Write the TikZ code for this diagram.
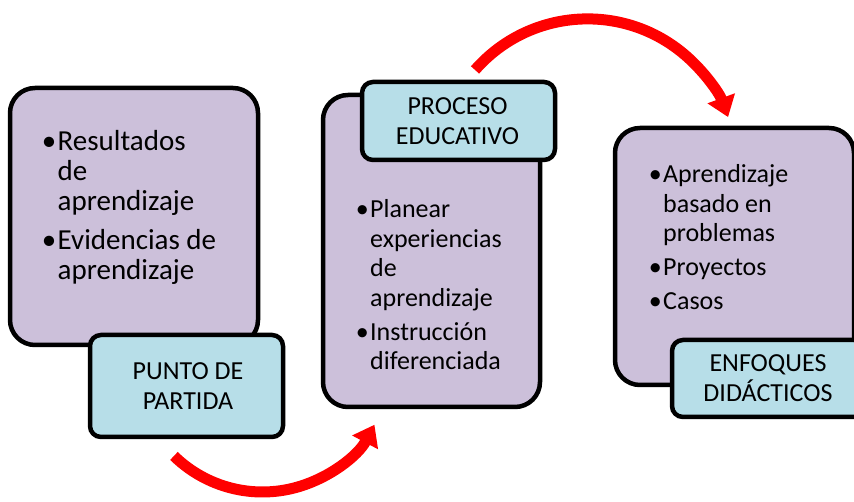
\documentclass[tikz,border=0pt]{standalone}
\usepackage{fontspec}
\setmainfont{Carlito}
\usetikzlibrary{arrows.meta,calc}
\definecolor{boxpurple}{RGB}{204,192,218}
\definecolor{labelblue}{RGB}{183,222,232}
\definecolor{arrowred}{RGB}{255,0,0}
\newcommand{\itemline}[1]{\hbox{\llap{\textbullet\hspace{1.5pt}}#1}}
\newcommand{\plainline}[1]{\hbox{#1}}
\newcommand{\ctrline}[1]{\hbox to 0pt{\hss#1\hss}}
\tikzset{
  mainbox/.style={draw=black, line width=4.5pt, fill=boxpurple, rounded corners=25pt, inner sep=0pt},
  labelbox/.style={draw=black, line width=4.5pt, fill=labelblue, rounded corners=11pt, inner sep=0pt},
  bigtext/.style={anchor=base west, inner sep=0pt, font=\fontsize{29}{30}\selectfont},
  midtext/.style={anchor=base west, inner sep=0pt, font=\fontsize{26}{29.5}\selectfont},
  labeltext/.style={anchor=base, inner sep=0pt, font=\fontsize{26}{29.5}\selectfont},
  flow/.style={draw=arrowred, line width=11pt, -{Triangle[width=28pt,length=20pt]}}
}
\begin{document}
\begin{tikzpicture}[x=1pt,y=1pt]
\useasboundingbox (0,0) rectangle (854,502);
\clip (0,0) rectangle (854,502);
% box 1
\node[mainbox, minimum width=248pt, minimum height=257pt] (b1) at (134,285.5) {};
\node[bigtext] (t1) at (57.5,351) {\vtop{%
  \itemline{Resultados}\plainline{de}\plainline{aprendizaje}\vskip9pt
  \itemline{Evidencias de}\plainline{aprendizaje}}};
\node[labelbox, minimum width=193pt, minimum height=102pt] (l1) at (186.5,116) {};
\node[labeltext] (lt1) at (188,122) {\vtop{\ctrline{PUNTO DE}\ctrline{PARTIDA}}};
% box 2
\node[mainbox, minimum width=217pt, minimum height=312pt] (b2) at (431.5,251) {};
\node[midtext] (t2) at (370,284) {\vtop{%
  \itemline{Planear}\plainline{experiencias}\plainline{de}\plainline{aprendizaje}\vskip4.5pt
  \itemline{Instrucción}\plainline{diferenciada}}};
\node[labelbox, minimum width=193pt, minimum height=78pt] (l2) at (458.5,381) {};
\node[labeltext] (lt2) at (457.5,387) {\vtop{\ctrline{PROCESO}\ctrline{EDUCATIVO}}};
% box 3
\node[mainbox, minimum width=239pt, minimum height=257pt] (b3) at (734.5,245.5) {};
\node[midtext] (t3) at (663,319) {\vtop{%
  \itemline{Aprendizaje}\plainline{basado en}\plainline{problemas}\vskip4.5pt
  \itemline{Proyectos}\vskip4.5pt
  \itemline{Casos}}};
\node[labelbox, minimum width=193pt, minimum height=77pt] (l3) at (768.5,123.5) {};
\node[labeltext] (lt3) at (768,130) {\vtop{\ctrline{ENFOQUES}\ctrline{DIDÁCTICOS}}};
% arrows
\coordinate (c1) at (262.5,136.8);
\coordinate (s1) at ($(c1)+(225.7:126.8pt)$);
\coordinate (c2) at (587.6,333.5);
\coordinate (s2) at ($(c2)+(138.8:149.6pt)$);
\draw[flow] (s1) arc[start angle=225.7, end angle=332, radius=126.8pt];
\draw[flow] (s2) arc[start angle=138.8, end angle=20.1, radius=149.6pt];
\end{tikzpicture}
\end{document}
